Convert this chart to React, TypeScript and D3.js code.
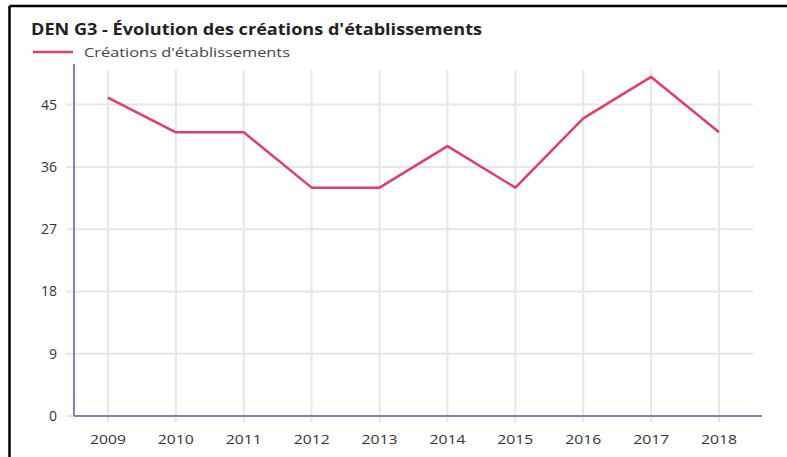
import React from "react";
import * as d3 from "d3";

const years = ["2009", "2010", "2011", "2012", "2013", "2014", "2015", "2016", "2017", "2018"];
const creations = [46, 41, 41, 33, 33, 39, 33, 43, 49, 41];
const yTicks = [0, 9, 18, 27, 36, 45];
const title = "DEN G3 - Évolution des créations d'établissements";
const seriesName = "Créations d'établissements";

const W = 787;
const H = 457;
const FONT = "'Open Sans', 'Noto Sans', sans-serif";

export default function App() {
  const left = 74;
  const right = 753;
  const top = 70;
  const bottom = 416;
  const x = d3.scaleBand().domain(years).range([left, right]);
  const y = d3.scaleLinear().domain([0, 50]).range([bottom, top]);
  const cx = (yr: string) => (x(yr) as number) + x.bandwidth() / 2;
  const line = d3
    .line<number>()
    .x((_, i) => cx(years[i]))
    .y((d) => y(d));
  const red = "#e0405e";
  const axisColor = "#8080c4";
  const grid = "#e6e6e6";

  return (
    <svg
      width={W}
      height={H}
      style={{ position: "absolute", left: 0, top: 0, display: "block", background: "#fff" }}
      fontFamily={FONT}
    >
      <line x1={9.5} y1={6} x2={W} y2={6} stroke="#000" strokeWidth={2.5} />
      <line x1={9.5} y1={6} x2={9.5} y2={H} stroke="#000" strokeWidth={2.5} />
      <text x={31} y={34.5} fontSize={15.5} fontWeight={700} fill="#222" textLength={451} lengthAdjust="spacingAndGlyphs">
        {title}
      </text>
      <line x1={33} y1={52} x2={73} y2={52} stroke={red} strokeWidth={2.5} />
      <text x={84} y={56.5} fontSize={13.5} fill="#444" textLength={206} lengthAdjust="spacingAndGlyphs">
        {seriesName}
      </text>
      {yTicks.map((t) => (
        <g key={t}>
          <line x1={66} x2={right} y1={y(t)} y2={y(t)} stroke={grid} strokeWidth={2} />
          <text x={57} y={y(t) + 5} fontSize={14} textAnchor="end" fill="#333">
            {t}
          </text>
        </g>
      ))}
      {years.map((yr) => (
        <g key={yr}>
          <line x1={cx(yr)} x2={cx(yr)} y1={top} y2={422} stroke={grid} strokeWidth={2} />
          <text
            x={cx(yr) - 18}
            y={443.5}
            fontSize={13.5}
            fill="#333"
            textLength={36}
            lengthAdjust="spacingAndGlyphs"
          >
            {yr}
          </text>
        </g>
      ))}
      <line x1={left} x2={left} y1={64} y2={bottom} stroke={axisColor} strokeWidth={2} />
      <line x1={left} x2={762} y1={bottom} y2={bottom} stroke={axisColor} strokeWidth={2} />
      <path d={line(creations) || ""} fill="none" stroke={red} strokeWidth={2.5} strokeLinejoin="round" />
    </svg>
  );
}
